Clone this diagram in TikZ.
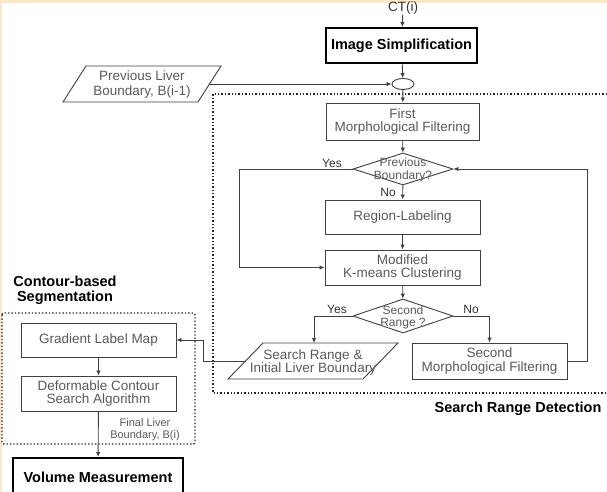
\documentclass[tikz,border=0pt]{standalone}
\usepackage{fontspec}
\setmainfont{Liberation Sans}
\usetikzlibrary{arrows.meta,shapes.geometric}
\definecolor{cream}{HTML}{FBE8CB}
\definecolor{linec}{HTML}{404040}
\definecolor{txtc}{HTML}{5A5A5A}
\tikzset{
 box/.style={draw=linec, line width=0.9pt, rectangle, inner sep=0pt, align=center, text=txtc, font=\fontsize{13.5}{13.5}\selectfont},
 boldbox/.style={draw=black, line width=2pt, rectangle, inner sep=0pt, align=center, font=\bfseries\fontsize{14.5}{15}\selectfont},
 conn/.style={draw=linec, line width=0.9pt},
 arr/.style={conn, -{Latex[length=5pt,width=4.5pt]}},
 dec/.style={draw=linec, line width=0.9pt, diamond, inner sep=0pt},
 dtext/.style={inner sep=0pt, align=center, text=txtc, font=\fontsize{12}{12.5}\selectfont},
 ptext/.style={inner sep=0pt, align=center, text=txtc, font=\fontsize{13.5}{15}\selectfont},
 lab/.style={inner sep=0pt, text=black!80, font=\fontsize{12}{12}\selectfont},
 frame/.style={draw=black!85, line width=1.4pt, dotted},
 title/.style={inner sep=0pt, align=center, font=\bfseries\fontsize{14.5}{15}\selectfont},
}
\begin{document}
\begin{tikzpicture}[x=1pt,y=-1pt]
\useasboundingbox (0,0) rectangle (607,492);
\fill[cream] (0,0) rectangle (607,492);
\fill[white] (2,3) rectangle (607,492);

% frames
\draw[frame] (607,94) -- (213,94) -- (213,393) -- (607,393);
\draw[frame, rounded corners=2pt] (2,313) rectangle (195,444);
\node[title] (srdt) at (518,409) {Search Range Detection};
\node[title] (cbst) at (65,290.5) {Contour-based\\Segmentation};

% top
\node[inner sep=0pt, text=black!80, font=\fontsize{13.5}{13.5}\selectfont] (ct) at (403,8) {CT(i)};
\node[boldbox, minimum width=151, minimum height=35] (simp) at (401.5,45.5) {Image Simplification};
\node[draw=linec, line width=0.9pt, ellipse, minimum width=22, minimum height=11, inner sep=0pt] (merge) at (403,84) {};

% previous boundary parallelogram
\draw[conn] (63,102) -- (198,102) -- (221,66) -- (86,66) -- cycle;
\node[ptext] (prev) at (142,84.5) {Previous Liver\\Boundary, B(i-1)};
\coordinate (prevE) at (209,84);

% search range flow
\node[box, minimum width=153, minimum height=37] (first) at (402.5,121.5) {First\\Morphological Filtering};
\node[dec, minimum width=100, minimum height=32] (d1) at (403,169) {};
\node[dtext] (d1t) at (403,170) {Previous\\Boundary?};
\node[box, minimum width=155, minimum height=34] (region) at (402.5,217) {Region-Labeling};
\node[box, minimum width=155, minimum height=35] (kmeans) at (402.5,267.5) {Modified\\K-means Clustering};
\node[dec, minimum width=100, minimum height=34] (d2) at (403,316) {};
\node[dtext] (d2t) at (403,317.5) {Second\\Range ?};
\node[box, minimum width=155, minimum height=36] (second) at (489.5,361) {Second\\Morphological Filtering};

% search range parallelogram
\draw[conn] (228,379) -- (363,379) -- (398,343) -- (263,343) -- cycle;
\node[ptext, font=\fontsize{13.5}{13.5}\selectfont] (srch) at (313,362.5) {Search Range \&\\Initial Liver Boundary};
\coordinate (searchN) at (314,343);
\coordinate (searchW) at (245.5,361);

% contour-based segmentation
\node[box, minimum width=155, minimum height=34] (grad) at (98.5,340) {Gradient Label Map};
\node[box, minimum width=155, minimum height=35] (deform) at (98.5,393.5) {Deformable Contour\\Search Algorithm};
\node[inner sep=0pt, align=center, text=txtc, font=\fontsize{11}{11.5}\selectfont] (fin) at (145,429.5) {Final Liver\\Boundary, B(i)};
\node[boldbox, minimum width=170, minimum height=40] (vol) at (98,478) {};
\node[inner sep=0pt, font=\bfseries\fontsize{14.5}{15}\selectfont] (volt) at (98,477) {Volume Measurement};

% labels
\node[lab] (y1) at (332,163) {Yes};
\node[lab] (n1) at (388,192) {No};
\node[lab] (y2) at (337,309) {Yes};
\node[lab] (n2) at (471,309) {No};

% connectors
\draw[arr] (ct) -- (simp);
\draw[arr] (simp) -- (merge);
\draw[arr] (prevE) -- (merge.west);
\draw[arr] (merge) -- (first);
\draw[arr] (first) -- (d1);
\draw[arr] (d1) -- (region);
\draw[arr] (region) -- (kmeans);
\draw[arr] (kmeans) -- (d2);
\draw[arr] (d1.west) -- ++(-113,0) |- (kmeans.west);
\draw[arr] (d2.west) -| (searchN);
\draw[arr] (d2.east) -| (second.north);
\draw[arr] (second.east) -- ++(20,0) |- (d1.east);
\draw[arr] (searchW) -- ++(-42,0) |- (grad.east);
\draw[arr] (grad) -- (deform);
\draw[arr] (deform) -- (vol);
\end{tikzpicture}
\end{document}
